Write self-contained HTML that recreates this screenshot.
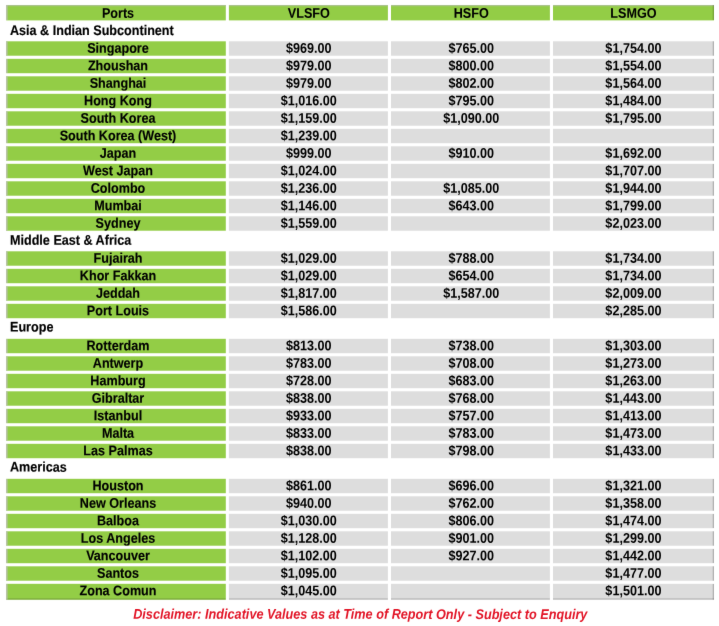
<!DOCTYPE html>
<html lang="en">
<head>
<meta charset="utf-8">
<title>Bunker Prices by Port</title>
<style>
html,body{margin:0;padding:0;background:#fff;overflow:hidden}
body{width:719px;height:626px;position:relative}
#view{position:absolute;left:0;top:0;width:719px;height:626px;overflow:hidden;background:#fff;filter:url(#soft)}
#sheet{position:absolute;left:0;top:0;width:7190px;height:5651.89px;transform:scale(0.1,0.110759);transform-origin:0 0;
  font-family:"Liberation Sans",Arial,Helvetica,sans-serif;font-weight:bold;font-size:12.6px;line-height:13px;text-rendering:geometricPrecision;color:#000000;-webkit-text-stroke:0px currentColor}
table{position:absolute;left:31px;top:16.88px;width:7140px;table-layout:fixed;border-collapse:separate;border-spacing:31px 28px}
td,th{box-sizing:content-box;padding:0;margin:0;border:0;height:130px;
  text-align:center;vertical-align:top;white-space:nowrap;overflow:hidden;font-weight:bold}
td>span,th>span{display:block;height:13px;transform-origin:0 0}
th{height:127px;padding-top:12px;background-color:#93cd46;box-shadow:inset 0 12px 0 rgba(185,185,185,0.6)}
.p{background-color:#93cd46}
.v{background-color:#dddddd}
.c1{box-shadow:inset 13px 0 0 #bbbfb3;padding-left:40px;padding-right:0px}
.c2{padding-left:8px;padding-right:0px}
.c3{padding-left:16px;padding-right:0px}
.c4{box-shadow:inset -13px 0 0 rgba(0,0,0,0.2);padding-left:0px;padding-right:2px}
.c1>span{width:215.6px;transform:matrix(10.00000,0.00524,-0.00524,10.00000,0.034,2.778)}
.c2>span{width:158.2px;transform:matrix(10.00000,0.00524,-0.00524,10.00000,0.034,2.929)}
.c3>span{width:157.3px;transform:matrix(10.00000,0.00524,-0.00524,10.00000,0.034,2.931)}
.c4>span{width:160.8px;transform:matrix(10.00000,0.00524,-0.00524,10.00000,0.034,2.922)}
th.c1>span{width:215.6px;transform:matrix(10.00000,0.00524,-0.00524,10.00000,0.034,2.778)}
th.c2>span{width:158.2px;transform:matrix(10.00000,0.00524,-0.00524,10.00000,0.034,2.929)}
th.c3>span{width:157.3px;transform:matrix(10.00000,0.00524,-0.00524,10.00000,0.034,2.931)}
th.c4>span{width:160.8px;transform:matrix(10.00000,0.00524,-0.00524,10.00000,0.034,2.922)}
.cat td{text-align:left;padding-left:38px}
.cat td>span{width:704px;transform:matrix(10.00000,0.00524,-0.00524,10.00000,0.035,0.146)}
tbody:nth-of-type(1) .cat td>span{width:704px;transform:matrix(10.00000,0.00524,-0.00524,10.00000,0.035,0.146)}
tbody:nth-of-type(2) .cat td>span{width:704px;transform:matrix(10.00000,0.00524,-0.00524,10.00000,0.035,-1.209)}
tbody:nth-of-type(3) .cat td>span{width:704px;transform:matrix(10.00000,0.00524,-0.00524,10.00000,0.035,-7.529)}
tbody:nth-of-type(4) .cat td>span{width:704px;transform:matrix(10.00000,0.00524,-0.00524,10.00000,0.035,-7.077)}
thead+tbody .cat td{padding-top:3px}
td.c1{-webkit-text-stroke-width:0.12px}
.cat td{-webkit-text-stroke-width:0.15px}
th{-webkit-text-stroke-width:0.06px}
#note{-webkit-text-stroke-width:0px}
.last td{padding-bottom:14px;box-shadow:inset 0 -14px 0 rgba(0,0,0,0.15)}
th.c1{box-shadow:inset 13px 0 0 #bbbfb3,inset 0 12px 0 rgba(185,185,185,0.6)}
th.c4{box-shadow:inset -13px 0 0 rgba(0,0,0,0.2),inset 0 12px 0 rgba(185,185,185,0.6)}
.last td.c1{box-shadow:inset 13px 0 0 #bbbfb3,inset 0 -14px 0 rgba(0,0,0,0.15)}
.last td.c4{box-shadow:inset -13px 0 0 rgba(0,0,0,0.2),inset 0 -14px 0 rgba(0,0,0,0.15)}
#note{position:absolute;left:0;top:0;width:720.6px;height:13px;margin:0;text-align:center;white-space:nowrap;
  font-style:italic;font-weight:bold;font-size:12.68px;color:#e21527;transform-origin:0 0;transform:matrix(10.00000,0.00524,-0.00524,10.00000,0.035,5485.411)}
</style>
</head>
<body>
<svg width="0" height="0" style="position:absolute" aria-hidden="true"><filter id="soft" x="0" y="0" width="100%" height="100%" color-interpolation-filters="sRGB"><feConvolveMatrix order="3" kernelMatrix="0.00420 0.05640 0.00420 0.05640 0.75760 0.05640 0.00420 0.05640 0.00420" divisor="1" edgeMode="duplicate" preserveAlpha="true"/></filter></svg>
<div id="view">
<div id="sheet">
<table>
<colgroup><col style="width:2196px"><col style="width:1590px"><col style="width:1589px"><col style="width:1610px"></colgroup>
<thead>
<tr><th class="c1"><span>Ports</span></th><th class="c2"><span>VLSFO</span></th><th class="c3"><span>HSFO</span></th><th class="c4"><span>LSMGO</span></th></tr>
</thead>
<tbody>
<tr class="cat"><td colspan="4"><span>Asia &amp; Indian Subcontinent</span></td></tr>
<tr><td class="p c1"><span>Singapore</span></td><td class="v c2"><span>$969.00</span></td><td class="v c3"><span>$765.00</span></td><td class="v c4"><span>$1,754.00</span></td></tr>
<tr><td class="p c1"><span>Zhoushan</span></td><td class="v c2"><span>$979.00</span></td><td class="v c3"><span>$800.00</span></td><td class="v c4"><span>$1,554.00</span></td></tr>
<tr><td class="p c1"><span>Shanghai</span></td><td class="v c2"><span>$979.00</span></td><td class="v c3"><span>$802.00</span></td><td class="v c4"><span>$1,564.00</span></td></tr>
<tr><td class="p c1"><span>Hong Kong</span></td><td class="v c2"><span>$1,016.00</span></td><td class="v c3"><span>$795.00</span></td><td class="v c4"><span>$1,484.00</span></td></tr>
<tr><td class="p c1"><span>South Korea</span></td><td class="v c2"><span>$1,159.00</span></td><td class="v c3"><span>$1,090.00</span></td><td class="v c4"><span>$1,795.00</span></td></tr>
<tr><td class="p c1"><span>South Korea (West)</span></td><td class="v c2"><span>$1,239.00</span></td><td class="v c3"></td><td class="v c4"></td></tr>
<tr><td class="p c1"><span>Japan</span></td><td class="v c2"><span>$999.00</span></td><td class="v c3"><span>$910.00</span></td><td class="v c4"><span>$1,692.00</span></td></tr>
<tr><td class="p c1"><span>West Japan</span></td><td class="v c2"><span>$1,024.00</span></td><td class="v c3"></td><td class="v c4"><span>$1,707.00</span></td></tr>
<tr><td class="p c1"><span>Colombo</span></td><td class="v c2"><span>$1,236.00</span></td><td class="v c3"><span>$1,085.00</span></td><td class="v c4"><span>$1,944.00</span></td></tr>
<tr><td class="p c1"><span>Mumbai</span></td><td class="v c2"><span>$1,146.00</span></td><td class="v c3"><span>$643.00</span></td><td class="v c4"><span>$1,799.00</span></td></tr>
<tr><td class="p c1"><span>Sydney</span></td><td class="v c2"><span>$1,559.00</span></td><td class="v c3"></td><td class="v c4"><span>$2,023.00</span></td></tr>
</tbody>
<tbody>
<tr class="cat"><td colspan="4"><span>Middle East &amp; Africa</span></td></tr>
<tr><td class="p c1"><span>Fujairah</span></td><td class="v c2"><span>$1,029.00</span></td><td class="v c3"><span>$788.00</span></td><td class="v c4"><span>$1,734.00</span></td></tr>
<tr><td class="p c1"><span>Khor Fakkan</span></td><td class="v c2"><span>$1,029.00</span></td><td class="v c3"><span>$654.00</span></td><td class="v c4"><span>$1,734.00</span></td></tr>
<tr><td class="p c1"><span>Jeddah</span></td><td class="v c2"><span>$1,817.00</span></td><td class="v c3"><span>$1,587.00</span></td><td class="v c4"><span>$2,009.00</span></td></tr>
<tr><td class="p c1"><span>Port Louis</span></td><td class="v c2"><span>$1,586.00</span></td><td class="v c3"></td><td class="v c4"><span>$2,285.00</span></td></tr>
</tbody>
<tbody>
<tr class="cat"><td colspan="4"><span>Europe</span></td></tr>
<tr><td class="p c1"><span>Rotterdam</span></td><td class="v c2"><span>$813.00</span></td><td class="v c3"><span>$738.00</span></td><td class="v c4"><span>$1,303.00</span></td></tr>
<tr><td class="p c1"><span>Antwerp</span></td><td class="v c2"><span>$783.00</span></td><td class="v c3"><span>$708.00</span></td><td class="v c4"><span>$1,273.00</span></td></tr>
<tr><td class="p c1"><span>Hamburg</span></td><td class="v c2"><span>$728.00</span></td><td class="v c3"><span>$683.00</span></td><td class="v c4"><span>$1,263.00</span></td></tr>
<tr><td class="p c1"><span>Gibraltar</span></td><td class="v c2"><span>$838.00</span></td><td class="v c3"><span>$768.00</span></td><td class="v c4"><span>$1,443.00</span></td></tr>
<tr><td class="p c1"><span>Istanbul</span></td><td class="v c2"><span>$933.00</span></td><td class="v c3"><span>$757.00</span></td><td class="v c4"><span>$1,413.00</span></td></tr>
<tr><td class="p c1"><span>Malta</span></td><td class="v c2"><span>$833.00</span></td><td class="v c3"><span>$783.00</span></td><td class="v c4"><span>$1,473.00</span></td></tr>
<tr><td class="p c1"><span>Las Palmas</span></td><td class="v c2"><span>$838.00</span></td><td class="v c3"><span>$798.00</span></td><td class="v c4"><span>$1,433.00</span></td></tr>
</tbody>
<tbody>
<tr class="cat"><td colspan="4"><span>Americas</span></td></tr>
<tr><td class="p c1"><span>Houston</span></td><td class="v c2"><span>$861.00</span></td><td class="v c3"><span>$696.00</span></td><td class="v c4"><span>$1,321.00</span></td></tr>
<tr><td class="p c1"><span>New Orleans</span></td><td class="v c2"><span>$940.00</span></td><td class="v c3"><span>$762.00</span></td><td class="v c4"><span>$1,358.00</span></td></tr>
<tr><td class="p c1"><span>Balboa</span></td><td class="v c2"><span>$1,030.00</span></td><td class="v c3"><span>$806.00</span></td><td class="v c4"><span>$1,474.00</span></td></tr>
<tr><td class="p c1"><span>Los Angeles</span></td><td class="v c2"><span>$1,128.00</span></td><td class="v c3"><span>$901.00</span></td><td class="v c4"><span>$1,299.00</span></td></tr>
<tr><td class="p c1"><span>Vancouver</span></td><td class="v c2"><span>$1,102.00</span></td><td class="v c3"><span>$927.00</span></td><td class="v c4"><span>$1,442.00</span></td></tr>
<tr><td class="p c1"><span>Santos</span></td><td class="v c2"><span>$1,095.00</span></td><td class="v c3"></td><td class="v c4"><span>$1,477.00</span></td></tr>
<tr class="last"><td class="p c1"><span>Zona Comun</span></td><td class="v c2"><span>$1,045.00</span></td><td class="v c3"></td><td class="v c4"><span>$1,501.00</span></td></tr>
</tbody>
</table>
<p id="note">Disclaimer: Indicative Values as at Time of Report Only - Subject to Enquiry</p>
</div>
</div>
</body>
</html>
